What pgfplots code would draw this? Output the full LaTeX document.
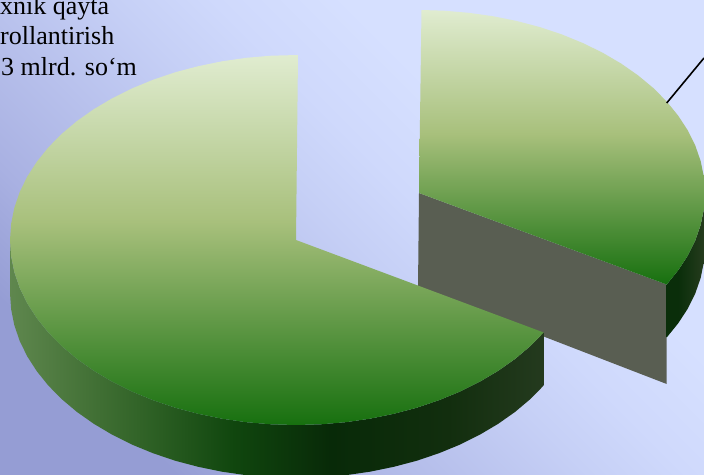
\documentclass[border=0pt]{standalone}
\usepackage{pgfplots}
\pgfplotsset{compat=1.18}
\usepackage{fontspec}
\setmainfont{Liberation Serif}

\definecolor{bga}{HTML}{959DD4}
\definecolor{bgb}{HTML}{A9B1E2}
\definecolor{bgc}{HTML}{C6D0F6}
\definecolor{bgd}{HTML}{CFD9FC}
\definecolor{bge}{HTML}{D6E0FF}
\definecolor{wall}{RGB}{89,94,82}
\definecolor{topa}{RGB}{23,112,15}
\definecolor{topb}{RGB}{168,192,124}
\definecolor{topc}{RGB}{224,236,208}
\definecolor{lsa}{RGB}{95,135,78}
\definecolor{lsb}{RGB}{50,100,40}
\definecolor{lsc}{RGB}{16,70,14}
\definecolor{lsd}{RGB}{8,42,8}
\definecolor{lse}{RGB}{18,46,14}
\definecolor{lsf}{RGB}{36,58,30}
\definecolor{rsa}{RGB}{10,46,10}
\definecolor{rsb}{RGB}{38,60,30}

% the fitted box of a shading is its middle 50bp
\pgfdeclareverticalshading{backdrop}{100bp}{
  color(0bp)=(bga); color(25bp)=(bga); color(33bp)=(bgb); color(50bp)=(bgc);
  color(56bp)=(bgd); color(64bp)=(bge); color(100bp)=(bge)}
\pgfdeclareverticalshading{pietop}{100bp}{
  color(0bp)=(topa); color(25bp)=(topa); color(52.5bp)=(topb);
  color(75bp)=(topc); color(100bp)=(topc)}
\pgfdeclarehorizontalshading{leftside}{100bp}{
  color(0bp)=(lsa); color(25bp)=(lsa); color(37bp)=(lsb); color(46bp)=(lsc);
  color(55bp)=(lsd); color(66bp)=(lse); color(75bp)=(lsf); color(100bp)=(lsf)}
\pgfdeclarehorizontalshading{rightside}{100bp}{
  color(0bp)=(rsa); color(25bp)=(rsa); color(40bp)=(rsa);
  color(75bp)=(rsb); color(100bp)=(rsb)}

\begin{document}
\begin{tikzpicture}
\useasboundingbox (0,0) rectangle (704pt,474pt);
\clip (0,0) rectangle (704pt,474pt);
\begin{axis}[
  scale only axis,
  width=704pt,
  height=474pt,
  xmin=0, xmax=704,
  ymin=0, ymax=474,
  y dir=reverse,
  hide axis,
  clip=true,
]
% background
\addplot[draw=none, mark=none, shade, shading=backdrop, shading angle=-45]
  coordinates {(0,0) (704,0) (704,474) (0,474)} --cycle;

% right slice: cut wall
\addplot[draw=none, mark=none, fill=wall]
  coordinates {(419,193) (666.7,284.5) (666.7,384) (418,288)} --cycle;
% right slice: rim
\addplot[draw=none, mark=none, shade, shading=rightside]
  coordinates {(666.7,284.5) (678.2,270.3) (687.8,255.6) (695.3,240.4) (700.7,224.8) (703.9,209) (705,193)
    (705,246) (703.9,262) (700.7,277.8) (695.3,293.4) (687.8,308.6) (678.2,323.3) (666.7,337.5)} --cycle;
% right slice: top
\addplot[draw=none, mark=none, shade, shading=pietop]
  coordinates {(419,193) (666.7,284.5) (678.2,270.3) (687.8,255.6) (695.3,240.4) (700.7,224.8) (703.9,209)
    (705,193) (703.9,177) (700.7,161.2) (695.3,145.6) (687.8,130.4) (678.2,115.7) (666.7,101.5)
    (653.3,88) (638.1,75.4) (621.2,63.6) (602.8,52.8) (583,43.1) (562,34.5) (539.9,27.1) (516.8,21)
    (493,16.2) (468.6,12.8) (443.9,10.7) (421.5,10)} --cycle;

% left slice: rim
\addplot[draw=none, mark=none, shade, shading=leftside]
  coordinates {(10,240) (11.1,256.1) (14.3,272.1) (19.7,287.9) (27.2,303.3) (36.8,318.2) (48.3,332.5)
    (61.7,346.1) (76.9,358.9) (93.8,370.8) (112.2,381.7) (132,391.6) (153,400.2) (175.1,407.7) (198.2,413.8)
    (222,418.7) (246.4,422.2) (271.1,424.3) (296,425) (320.9,424.3) (345.6,422.2) (370,418.7) (393.8,413.8)
    (416.9,407.7) (439,400.2) (460,391.6) (479.8,381.7) (498.2,370.8) (515.1,358.9) (530.3,346.1) (543.7,332.5)
    (543.7,385.5) (530.3,399.1) (515.1,411.9) (498.2,423.8) (479.8,434.7) (460,444.6) (439,453.2) (416.9,460.7)
    (393.8,466.8) (370,471.7) (345.6,475.2) (320.9,477.3) (296,478) (271.1,477.3) (246.4,475.2) (222,471.7)
    (198.2,466.8) (175.1,460.7) (153,453.2) (132,444.6) (112.2,434.7) (93.8,423.8) (76.9,411.9) (61.7,399.1)
    (48.3,385.5) (36.8,371.2) (27.2,356.3) (19.7,340.9) (14.3,325.1) (11.1,309.1) (10,293)} --cycle;
% left slice: top
\addplot[draw=none, mark=none, shade, shading=pietop]
  coordinates {(296,240) (543.7,332.5) (530.3,346.1) (515.1,358.9) (498.2,370.8) (479.8,381.7) (460,391.6)
    (439,400.2) (416.9,407.7) (393.8,413.8) (370,418.7) (345.6,422.2) (320.9,424.3) (296,425) (271.1,424.3)
    (246.4,422.2) (222,418.7) (198.2,413.8) (175.1,407.7) (153,400.2) (132,391.6) (112.2,381.7) (93.8,370.8)
    (76.9,358.9) (61.7,346.1) (48.3,332.5) (36.8,318.2) (27.2,303.3) (19.7,287.9) (14.3,272.1) (11.1,256.1)
    (10,240) (11.1,223.9) (14.3,207.9) (19.7,192.1) (27.2,176.7) (36.8,161.8) (48.3,147.5) (61.7,133.9)
    (76.9,121.1) (93.8,109.2) (112.2,98.3) (132,88.4) (153,79.8) (175.1,72.3) (198.2,66.2) (222,61.3)
    (246.4,57.8) (271.1,55.7) (298,55)} --cycle;

% leader line
\addplot[black, line width=1.6pt, mark=none] coordinates {(666.7,103) (704,58)};

% label, cut off by the picture's edge
\node[anchor=base west, inner sep=0pt, font=\fontsize{26}{30}\selectfont] at (axis cs:0,14) {xnik qayta};
\node[anchor=base west, inner sep=0pt, font=\fontsize{26}{30}\selectfont] at (axis cs:0,44) {rollantirish};
\node[anchor=base west, inner sep=0pt, font=\fontsize{26}{30}\selectfont] at (axis cs:1,75) {3 mlrd. so‘m};
\end{axis}
\end{tikzpicture}
\end{document}
